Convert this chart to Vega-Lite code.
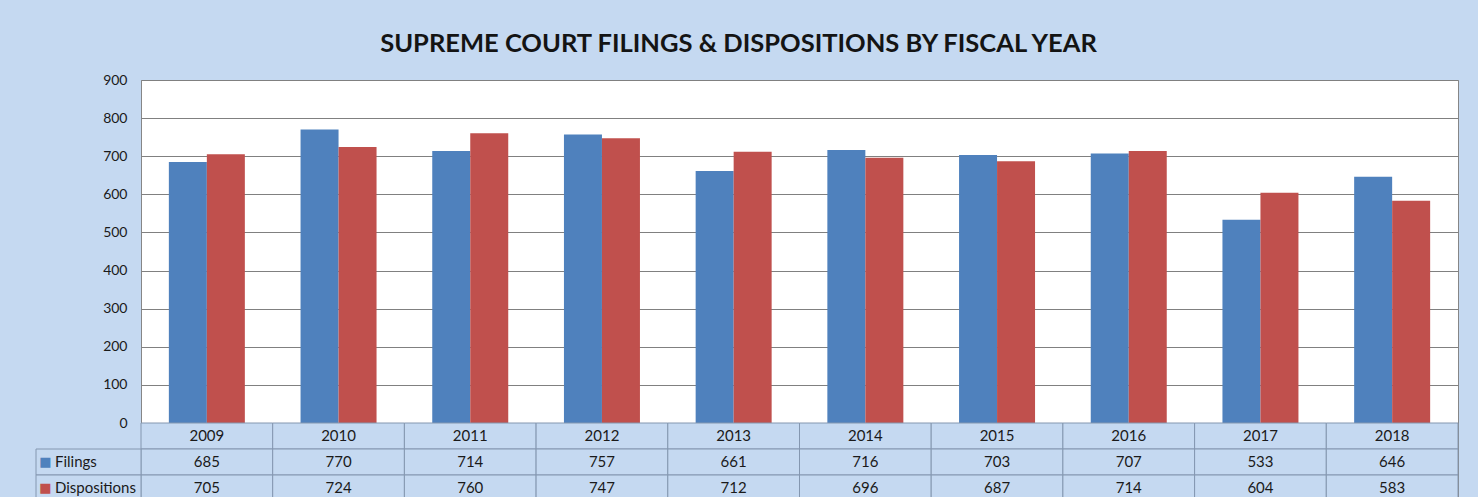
{
  "$schema": "https://vega.github.io/schema/vega-lite/v6.json",
  "width": 1317,
  "height": 417,
  "autosize": "none",
  "padding": {"left": 141, "top": 80, "right": 20, "bottom": 0},
  "background": "#C5D9F1",
  "title": {
    "text": "SUPREME COURT FILINGS & DISPOSITIONS BY FISCAL YEAR",
    "font": "Lato",
    "fontSize": 25.5,
    "fontWeight": "bold",
    "color": "#141414",
    "anchor": "middle",
    "frame": "group",
    "dx": -61,
    "offset": 16
  },
  "config": {
    "view": {"fill": "white", "stroke": "#868686", "strokeWidth": 1},
    "font": "Lato"
  },
  "data": {
    "values": [
      {"year": 2009, "series": "Filings", "value": 685},
      {"year": 2009, "series": "Dispositions", "value": 705},
      {"year": 2010, "series": "Filings", "value": 770},
      {"year": 2010, "series": "Dispositions", "value": 724},
      {"year": 2011, "series": "Filings", "value": 714},
      {"year": 2011, "series": "Dispositions", "value": 760},
      {"year": 2012, "series": "Filings", "value": 757},
      {"year": 2012, "series": "Dispositions", "value": 747},
      {"year": 2013, "series": "Filings", "value": 661},
      {"year": 2013, "series": "Dispositions", "value": 712},
      {"year": 2014, "series": "Filings", "value": 716},
      {"year": 2014, "series": "Dispositions", "value": 696},
      {"year": 2015, "series": "Filings", "value": 703},
      {"year": 2015, "series": "Dispositions", "value": 687},
      {"year": 2016, "series": "Filings", "value": 707},
      {"year": 2016, "series": "Dispositions", "value": 714},
      {"year": 2017, "series": "Filings", "value": 533},
      {"year": 2017, "series": "Dispositions", "value": 604},
      {"year": 2018, "series": "Filings", "value": 646},
      {"year": 2018, "series": "Dispositions", "value": 583}
    ]
  },
  "resolve": {"scale": {"x": "independent", "y": "independent"}},
  "layer": [
    {
      "mark": {"type": "bar"},
      "encoding": {
        "x": {"field": "year", "type": "nominal", "scale": {"paddingInner": 0, "paddingOuter": 0}, "axis": null},
        "xOffset": {"field": "series", "type": "nominal", "scale": {"domain": ["Filings", "Dispositions"], "paddingInner": 0, "paddingOuter": 0.733}},
        "y": {
          "field": "value",
          "type": "quantitative",
          "scale": {"domain": [0, 900], "range": [343, 0], "nice": false},
          "axis": {
            "values": [0, 100, 200, 300, 400, 500, 600, 700, 800, 900],
            "grid": true,
            "gridColor": "#808080",
            "gridOpacity": 1,
            "domain": false,
            "ticks": false,
            "labelPadding": 14,
            "labelFont": "Lato",
            "labelFontSize": 14,
            "labelColor": "#1a1a1a",
            "title": null
          }
        },
        "color": {"field": "series", "type": "nominal", "scale": {"domain": ["Filings", "Dispositions"], "range": ["#4F81BD", "#C0504D"]}, "legend": null}
      }
    },
    {
      "transform": [{"filter": "datum.series === 'Filings'"}],
      "mark": {"type": "rect", "fill": "#C5D9F1", "stroke": "#8497B0", "strokeWidth": 1},
      "encoding": {
        "x": {"field": "year", "type": "nominal", "scale": {"paddingInner": 0, "paddingOuter": 0}, "axis": null},
        "y": {"datum": "Year", "type": "nominal", "scale": {"domain": ["Year", "Filings", "Dispositions"], "range": [343, 421], "paddingInner": 0, "paddingOuter": 0}, "axis": null}
      }
    },
    {
      "mark": {"type": "rect", "fill": "#C5D9F1", "stroke": "#8497B0", "strokeWidth": 1},
      "encoding": {
        "x": {"field": "year", "type": "nominal", "scale": {"paddingInner": 0, "paddingOuter": 0}, "axis": null},
        "y": {"field": "series", "type": "nominal", "scale": {"domain": ["Year", "Filings", "Dispositions"], "range": [343, 421], "paddingInner": 0, "paddingOuter": 0}, "axis": null}
      }
    },
    {
      "transform": [{"filter": "datum.series === 'Filings'"}],
      "mark": {"type": "text", "font": "Lato", "fontSize": 15, "color": "#1a1a1a"},
      "encoding": {
        "x": {"field": "year", "type": "nominal", "scale": {"paddingInner": 0, "paddingOuter": 0}, "axis": null},
        "y": {"datum": "Year", "type": "nominal", "scale": {"domain": ["Year", "Filings", "Dispositions"], "range": [343, 421], "paddingInner": 0, "paddingOuter": 0}, "axis": null},
        "text": {"field": "year", "type": "nominal"}
      }
    },
    {
      "mark": {"type": "text", "font": "Lato", "fontSize": 15, "color": "#1a1a1a"},
      "encoding": {
        "x": {"field": "year", "type": "nominal", "scale": {"paddingInner": 0, "paddingOuter": 0}, "axis": null},
        "y": {"field": "series", "type": "nominal", "scale": {"domain": ["Year", "Filings", "Dispositions"], "range": [343, 421], "paddingInner": 0, "paddingOuter": 0}, "axis": null},
        "text": {"field": "value", "type": "quantitative"}
      }
    },
    {
      "transform": [{"filter": "datum.year === 2009"}],
      "mark": {"type": "rect", "fill": "#C5D9F1", "stroke": "#8497B0", "strokeWidth": 1},
      "encoding": {
        "x": {"datum": 0, "type": "quantitative", "scale": {"domain": [0, 1], "range": [-105, 0]}, "axis": null},
        "x2": {"datum": 1},
        "y": {"field": "series", "type": "nominal", "scale": {"domain": ["Year", "Filings", "Dispositions"], "range": [343, 421], "paddingInner": 0, "paddingOuter": 0}, "axis": null}
      }
    },
    {
      "transform": [{"filter": "datum.year === 2009"}],
      "mark": {"type": "text", "font": "Lato", "fontSize": 15, "color": "#1a1a1a", "align": "left", "dx": 19},
      "encoding": {
        "x": {"datum": 0, "type": "quantitative", "scale": {"domain": [0, 1], "range": [-105, 0]}, "axis": null},
        "y": {"field": "series", "type": "nominal", "scale": {"domain": ["Year", "Filings", "Dispositions"], "range": [343, 421], "paddingInner": 0, "paddingOuter": 0}, "axis": null},
        "text": {"field": "series", "type": "nominal"}
      }
    },
    {
      "transform": [{"filter": "datum.year === 2009"}],
      "mark": {"type": "text", "font": "DejaVu Sans", "fontSize": 13, "align": "center", "dx": 9.5},
      "encoding": {
        "x": {"datum": 0, "type": "quantitative", "scale": {"domain": [0, 1], "range": [-105, 0]}, "axis": null},
        "y": {"field": "series", "type": "nominal", "scale": {"domain": ["Year", "Filings", "Dispositions"], "range": [343, 421], "paddingInner": 0, "paddingOuter": 0}, "axis": null},
        "text": {"value": "■"},
        "color": {"field": "series", "type": "nominal", "scale": {"domain": ["Filings", "Dispositions"], "range": ["#4F81BD", "#C0504D"]}, "legend": null}
      }
    }
  ]
}
